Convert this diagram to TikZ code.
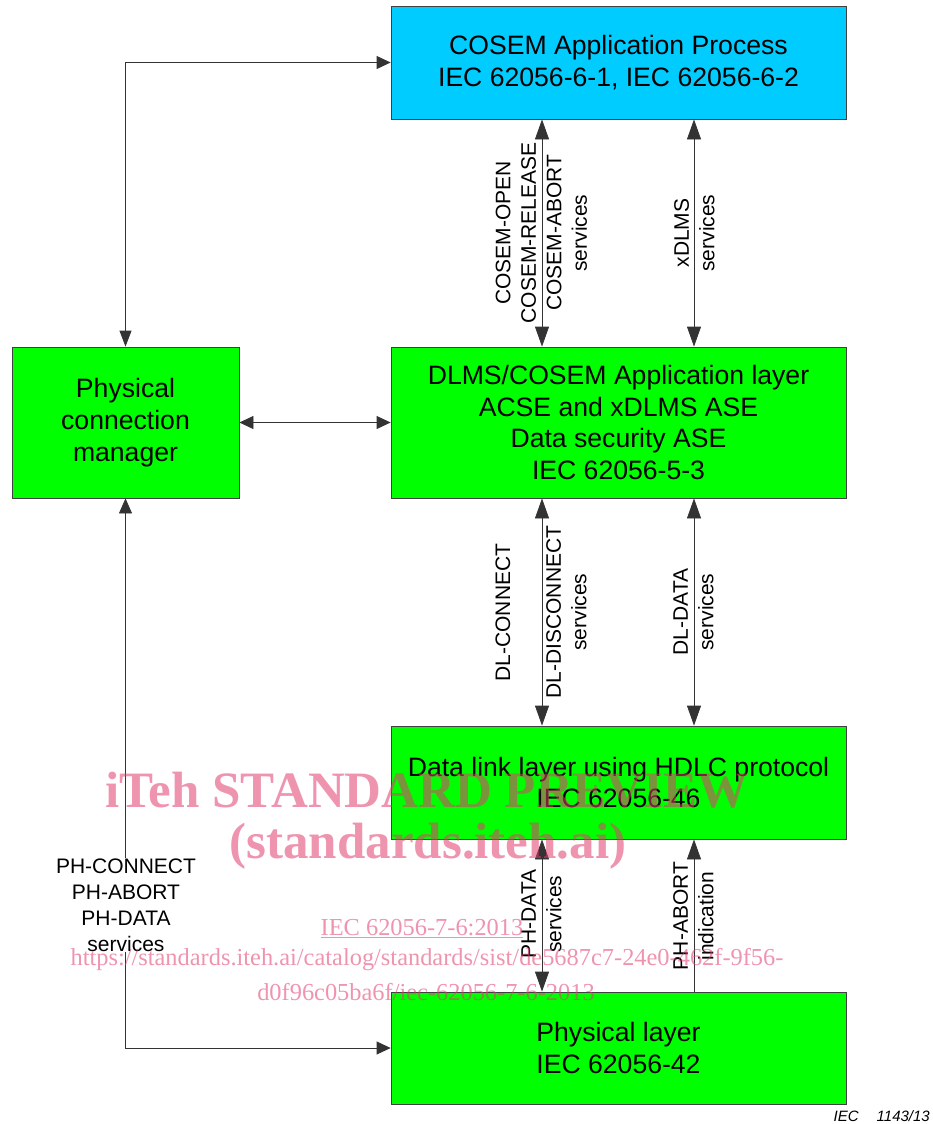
\documentclass[tikz,border=0pt]{standalone}
\usepackage{fontspec}
\setmainfont{Liberation Sans}
\newfontfamily\wmfont{Liberation Serif}
\usetikzlibrary{arrows.meta}
\definecolor{cosemcyan}{RGB}{0,204,255}
\definecolor{layergreen}{RGB}{0,255,0}
\definecolor{wmpink}{RGB}{225,60,110}
\tikzset{
  box/.style={draw=black!75, line width=0.8pt, align=center, inner sep=0pt,
    font=\fontsize{26.6}{31.7}\selectfont},
  conn/.style={line width=0.8pt, draw=black!80},
  dblv/.style={conn, {Triangle[length=20pt,width=14pt]}-{Triangle[length=20pt,width=14pt]}},
  singv/.style={conn, -{Triangle[length=20pt,width=14pt]}},
  dblh/.style={conn, {Triangle[length=14pt,width=13pt]}-{Triangle[length=14pt,width=13pt]}},
  vlab/.style={rotate=90, align=center, inner sep=0pt, font=\fontsize{21}{25.5}\selectfont},
  wm/.style={text=wmpink, opacity=0.55, text opacity=0.55, align=center, inner sep=0pt},
  wmsmall/.style={wm, font=\wmfont\fontsize{24.4}{28}\selectfont}
}
\begin{document}
\begin{tikzpicture}[x=1pt,y=-1pt]
\useasboundingbox (0,0) rectangle (932,1124);
% boxes
\node[box, fill=cosemcyan, minimum width=455pt, minimum height=113pt] (cosem) at (618.5,62.5)
  {COSEM Application Process\\IEC 62056-6-1, IEC 62056-6-2};
\node[box, fill=layergreen, minimum width=455pt, minimum height=151pt] (dlms) at (618.5,422.5)
  {DLMS/COSEM Application layer\\ACSE and xDLMS ASE\\Data security ASE\\IEC 62056-5-3};
\node[box, fill=layergreen, minimum width=227pt, minimum height=151pt] (pcm) at (125.5,422.5)
  {Physical\\connection\\manager};
\node[box, fill=layergreen, minimum width=455pt, minimum height=113pt] (dl) at (618.5,782.5)
  {Data link layer using HDLC protocol\\IEC 62056-46};
\node[box, fill=layergreen, minimum width=455pt, minimum height=112pt] (phy) at (618.5,1048)
  {Physical layer\\IEC 62056-42};
% column coordinates
\coordinate (ca) at (542,0);
\coordinate (cb) at (694,0);
% connectors
\draw[conn, {Triangle[length=14pt,width=13pt]}-{Triangle[length=16pt,width=12pt]}] (cosem.west) -| (pcm.north);
\draw[dblh] (pcm.east) -- (dlms.west);
\draw[conn, {Triangle[length=15pt,width=13pt]}-{Triangle[length=14pt,width=13pt]}] (pcm.south) |- (phy.west);
\draw[dblv] (ca |- cosem.south) -- (ca |- dlms.north);
\draw[dblv] (cb |- cosem.south) -- (cb |- dlms.north);
\draw[dblv] (ca |- dlms.south) -- (ca |- dl.north);
\draw[dblv] (cb |- dlms.south) -- (cb |- dl.north);
\draw[dblv] (ca |- dl.south) -- (ca |- phy.north);
\draw[singv] (cb |- phy.north) -- (cb |- dl.south);
% labels
\node[vlab] (l1) at (541.5,233) {COSEM-OPEN\\COSEM-RELEASE\\COSEM-ABORT\\services};
\node[vlab] (l2) at (694.5,233) {xDLMS\\services};
\node[vlab] (l3) at (503,612.5) {DL-CONNECT};
\node[vlab] (l4) at (566.5,612) {DL-DISCONNECT\\services};
\node[vlab] (l5) at (693.5,612) {DL-DATA\\services};
\node[vlab] (l6) at (541.5,914) {PH-DATA\\services};
\node[vlab] (l7) at (693.5,916) {PH-ABORT\\indication};
\node[fill=white, align=center, inner sep=1pt, font=\fontsize{21}{26}\selectfont] (l8) at (126,905)
  {PH-CONNECT\\PH-ABORT\\PH-DATA\\services};
\node[anchor=east, inner sep=0pt, font=\fontsize{15}{18}\selectfont\itshape] (iec) at (930,1116)
  {IEC\hspace{1.2em}1143/13};
% watermark
\node[wm, font=\wmfont\bfseries\fontsize{51}{58}\selectfont] (w1) at (427,790) {iTeh STANDARD PREVIEW};
\node[wm, font=\wmfont\bfseries\fontsize{51}{58}\selectfont] (w2) at (428,846) {(standards.iteh.ai)};
\node[wmsmall] (w3) at (422,929) {\underline{IEC 62056-7-6:2013}};
\node[wmsmall] (w4) at (427,960)
  {https://standards.iteh.ai/catalog/standards/sist/de5687c7-24e0-462f-9f56-};
\node[wmsmall] (w5) at (426,992) {d0f96c05ba6f/iec-62056-7-6-2013};
\end{tikzpicture}
\end{document}
